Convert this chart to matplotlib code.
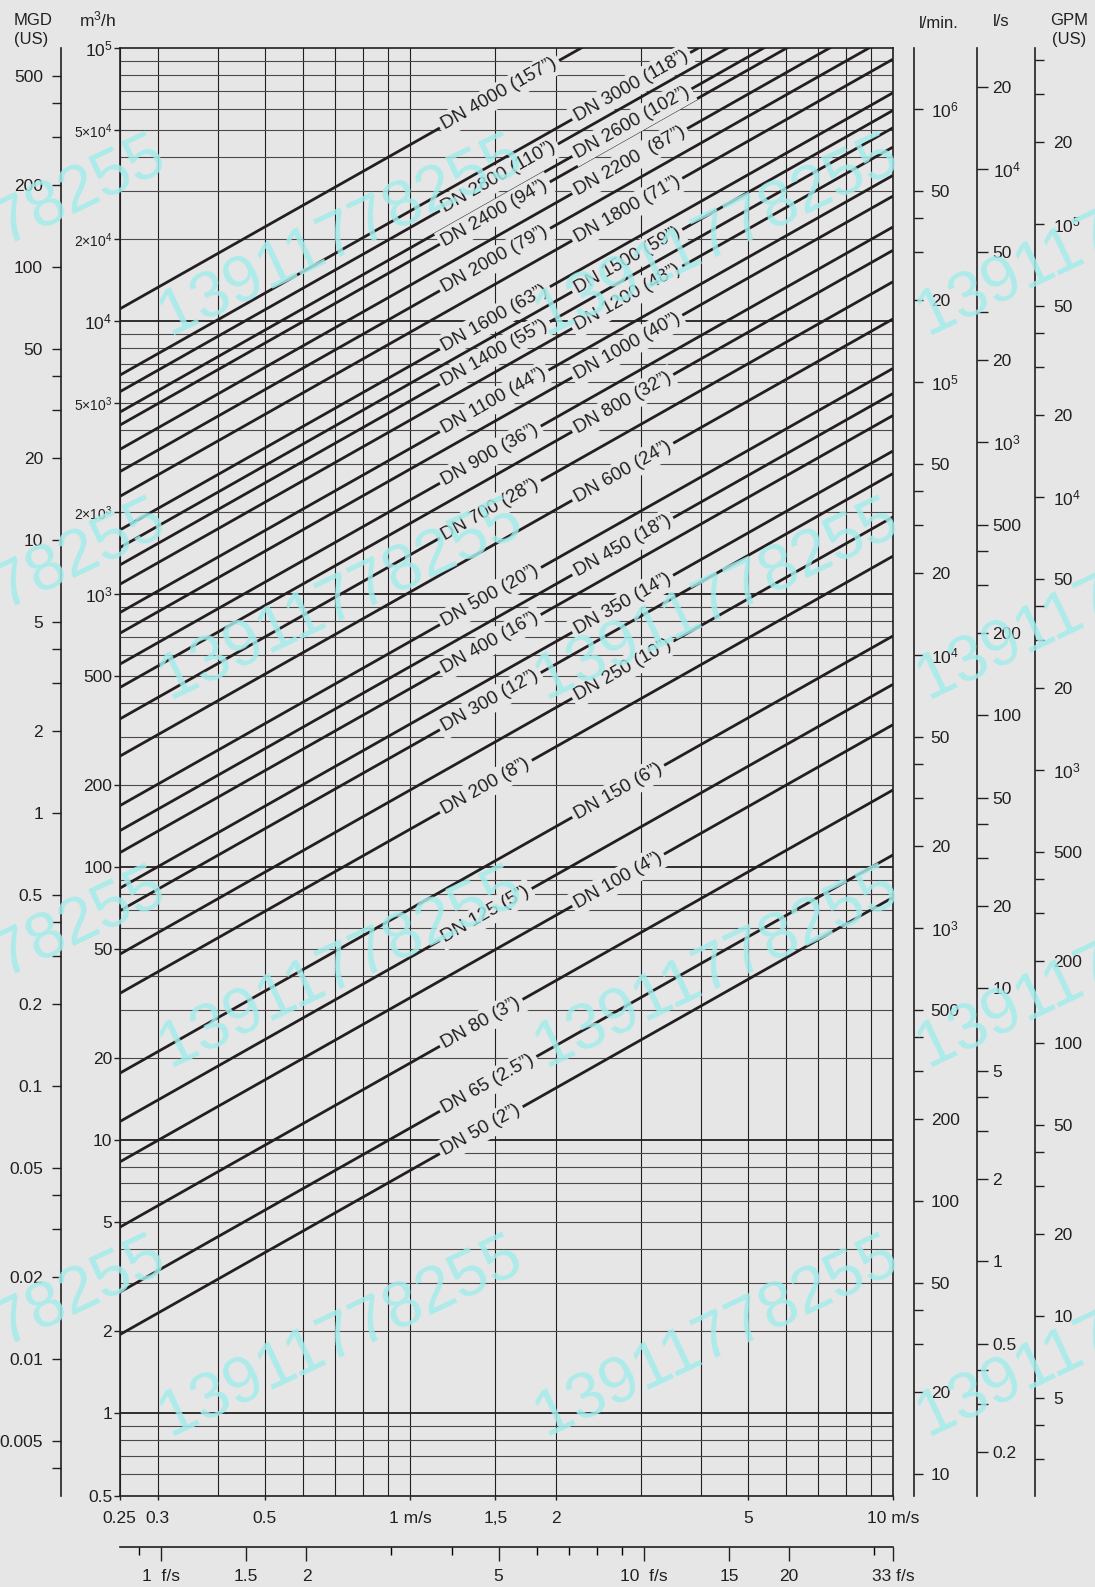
import numpy as np
import matplotlib
matplotlib.use("Agg")
import matplotlib.pyplot as plt
from matplotlib.ticker import NullFormatter, NullLocator

plt.rcParams["font.family"] = ["Liberation Sans", "DejaVu Sans"]
plt.rcParams["mathtext.fontset"] = "custom"
plt.rcParams["mathtext.rm"] = "Liberation Sans"
plt.rcParams["mathtext.default"] = "regular"

# pipe sizes, inch sizes and flow at 1 m/s (m3/h)
dn = [4000, 3000, 2800, 2600, 2400, 2200, 2000, 1800, 1600, 1500, 1400,
      1200, 1100, 1000, 900, 800, 700, 600, 500, 450, 400, 350, 300, 250,
      200, 150, 125, 100, 80, 65, 50]
inch = ["157", "118", "110", "102", "94", "87", "79", "71", "63", "59", "55",
        "48", "44", "40", "36", "32", "28", "24", "20", "18", "16", "14",
        "12", "10", "8", "6", "5", "4", "3", "2.5", "2"]
q_1ms = [44360, 25360, 22050, 18570, 16640, 13560, 11240, 9124, 6872, 5924,
         5116, 4348, 3424, 2876, 2216, 1820, 1396, 1020, 672, 544, 452, 335,
         277, 192, 138, 70.4, 46.8, 33.3, 19.2, 11.1, 7.76]
label_col = "LRLRLRLRLRLRLRLRLRLRLRLRLRLRLLL"

# grid
v_grid = [0.25, 0.3, 0.4, 0.5, 0.6, 0.7, 0.8, 0.9, 1, 1.5, 2, 3, 4, 5, 6,
          7, 8, 9, 10]
q_grid = [k * 10.0 ** e for e in range(-1, 5) for k in range(1, 10)
          if 0.5 <= k * 10.0 ** e <= 1e5]

# velocity ticks
v_ticks = [0.25, 0.3, 0.5, 1, 1.5, 2, 5, 10]
v_labels = ["0.25", "0.3", "0.5", "1 m/s", "1,5", "2", "5", "10 m/s"]
fs_ticks = [1, 1.5, 2, 5, 10, 15, 20, 32.8084]
fs_labels = ["1  f/s", "1.5", "2", "5", "10  f/s", "15", "20", "33 f/s"]
fs_minor = [0.9, 3, 4, 6, 7, 8, 9, 30]

# flow ticks
q_ticks = [1e5, 5e4, 2e4, 1e4, 5e3, 2e3, 1e3, 500, 200, 100, 50, 20, 10,
           5, 2, 1, 0.5]
q_labels = ["$10^5$", "5×10$^4$", "2×10$^4$", "$10^4$", "5×10$^3$",
            "2×10$^3$", "$10^3$", "500", "200", "100", "50", "20", "10",
            "5", "2", "1", "0.5"]

mgd_ticks = [500, 200, 100, 50, 20, 10, 5, 2, 1, 0.5, 0.2, 0.1, 0.05, 0.02,
             0.01, 0.005]
mgd_labels = ["500", "200", "100", "50", "20", "10", "5", "2", "1", "0.5",
              "0.2", "0.1", "0.05", "0.02", "0.01", "0.005"]
mgd_minor = [400, 300, 40, 30, 4, 3, 0.4, 0.3, 0.04, 0.03, 0.004]

lmin_ticks = [1e6, 5e5, 2e5, 1e5, 5e4, 2e4, 1e4, 5e3, 2e3, 1e3, 500, 200,
              100, 50, 20, 10]
lmin_labels = ["$10^6$", "50", "20", "$10^5$", "50", "20", "$10^4$", "50",
               "20", "$10^3$", "500", "200", "100", "50", "20", "10"]
lmin_minor = [4e5, 3e5, 4e4, 3e4, 4e3, 3e3, 400, 300, 40, 30]

ls_ticks = [2e4, 1e4, 5e3, 2e3, 1e3, 500, 200, 100, 50, 20, 10, 5, 2, 1,
            0.5, 0.2]
ls_labels = ["20", "$10^4$", "50", "20", "$10^3$", "500", "200", "100",
             "50", "20", "10", "5", "2", "1", "0.5", "0.2"]
ls_minor = [3e3, 400, 300, 40, 30, 4, 3, 0.4, 0.3]

gpm_ticks = [2e5, 1e5, 5e4, 2e4, 1e4, 5e3, 2e3, 1e3, 500, 200, 100, 50, 20,
             10, 5]
gpm_labels = ["20", "$10^5$", "50", "20", "$10^4$", "50", "20", "$10^3$",
              "500", "200", "100", "50", "20", "10", "5"]
gpm_minor = [4e5, 3e5, 4e4, 3e4, 4e3, 3e3, 400, 300, 40, 30, 4, 3]

M3H_TO_MGD = 24 / 3785.41
M3H_TO_LMIN = 1000 / 60
M3H_TO_LS = 1 / 3.6
M3H_TO_GPM = 4.40287
MS_TO_FS = 3.28084

BG = "#e6e6e6"
INK = "#231f20"
W_PX, H_PX = 1095, 1587


def fx(px):
    return px / W_PX


def fy(py):
    return 1 - py / H_PX


fig = plt.figure(figsize=(W_PX / 100, H_PX / 100), dpi=100, facecolor=BG)
left, right, top, bottom = 119.6, 893, 48.3, 1495.5
ax = fig.add_axes([fx(left), fy(bottom), fx(right - left),
                   (bottom - top) / H_PX], facecolor=BG)
ax.set_xscale("log")
ax.set_yscale("log")
ax.set_xlim(0.25, 10)
ax.set_ylim(0.5, 1e5)
for s in ax.spines.values():
    s.set_color(INK)
    s.set_linewidth(1.2)

for v in v_grid:
    ax.axvline(v, color=INK, lw=0.8, zorder=1)
for q in q_grid:
    decade = np.isclose(np.log10(q), round(np.log10(q)))
    ax.axhline(q, color=INK if decade else "#4d4949",
               lw=1.3 if decade else 0.8, zorder=1)

# pipe lines: flow grows in step with velocity
v_line = np.array([0.25, 10])
p0 = ax.transData.transform((1, 1))
p1 = ax.transData.transform((10, 10))
angle = np.degrees(np.arctan2(p1[1] - p0[1], p1[0] - p0[0]))
for d, i, q, col in zip(dn, inch, q_1ms, label_col):
    ax.plot(v_line, q * v_line, color=INK, lw=2.0, solid_capstyle="butt",
            zorder=2)
    vx = 1.17 if col == "L" else 2.2
    gap = "  " if d == 2200 else " "
    ax.text(vx, q * vx, f"DN {d}{gap}({i}”)", rotation=angle,
            rotation_mode="anchor", ha="left", va="center", fontsize=13.5,
            color=INK, zorder=3,
            bbox=dict(boxstyle="square,pad=0.2", fc=BG, ec="none"))

ax.set_xticks(v_ticks, v_labels)
ax.xaxis.set_minor_locator(NullLocator())
ax.set_yticks(q_ticks, q_labels)
ax.yaxis.set_minor_locator(NullLocator())
ax.tick_params(axis="x", direction="out", length=3, width=1, pad=8,
               labelsize=12.5, colors=INK)
ax.tick_params(axis="y", direction="out", length=4.3, width=1, pad=1,
               labelsize=12.5, colors=INK)
for lbl in ax.get_yticklabels():
    if "×" in lbl.get_text():
        lbl.set_fontsize(10)


def side_axis(loc, k, major, labels, minor, length, pad):
    sa = ax.secondary_yaxis(loc, functions=(lambda q: q * k,
                                            lambda u: u / k))
    sa.set_ticks(major, labels=labels)
    sa.set_ticks(minor, minor=True)
    sa.yaxis.set_minor_formatter(NullFormatter())
    sa.tick_params(which="both", direction="out", length=length, width=1,
                   pad=pad, labelsize=12.5, colors=INK)
    for s in sa.spines.values():
        s.set_color(INK)
        s.set_linewidth(1.2)
    return sa


def loc_x(px):
    return (px - left) / (right - left)


side_axis(loc_x(61), M3H_TO_MGD, mgd_ticks, mgd_labels, mgd_minor, 6.5, 6.5)
side_axis(loc_x(914), M3H_TO_LMIN, lmin_ticks, lmin_labels, lmin_minor,
          6.5, 5.5)
side_axis(loc_x(976.7), M3H_TO_LS, ls_ticks, ls_labels, ls_minor, 8, 3.4)
side_axis(loc_x(1034.7), M3H_TO_GPM, gpm_ticks, gpm_labels, gpm_minor,
          6.3, 7)

fs = ax.secondary_xaxis((bottom - 1547) / (bottom - top),
                        functions=(lambda v: v * MS_TO_FS,
                                   lambda f: f / MS_TO_FS))
fs.set_ticks(fs_ticks, labels=fs_labels)
fs.set_ticks(fs_minor, minor=True)
fs.xaxis.set_minor_formatter(NullFormatter())
fs.tick_params(which="major", direction="out", length=10, width=1, pad=6,
               labelsize=12.5, colors=INK)
fs.tick_params(which="minor", direction="out", length=5.8, width=1)
for s in fs.spines.values():
    s.set_color(INK)
    s.set_linewidth(1.2)

# axis titles
fig.text(fx(14), fy(30), "MGD\n(US)", ha="left", va="center", fontsize=12,
         color=INK, linespacing=1.3)
fig.text(fx(98), fy(19), "m$^3$/h", ha="center", va="center", fontsize=12.5,
         color=INK)
fig.text(fx(939), fy(23), "l/min.", ha="center", va="center", fontsize=12,
         color=INK)
fig.text(fx(1001), fy(22), "l/s", ha="center", va="center", fontsize=12,
         color=INK)
fig.text(fx(1069), fy(30), "GPM\n(US)", ha="center", va="center",
         fontsize=12, color=INK, linespacing=1.3)

# watermark
for x0 in [-187, 170, 546, 928]:
    for y0 in [336, 700, 1068, 1437]:
        fig.text(fx(x0), fy(y0), "13911778255", rotation=25.3,
                 rotation_mode="anchor", ha="left", va="baseline",
                 fontsize=47, color="#a3ebeb", alpha=0.85, zorder=10)

fig.savefig("out.png", dpi=100, facecolor=BG)
